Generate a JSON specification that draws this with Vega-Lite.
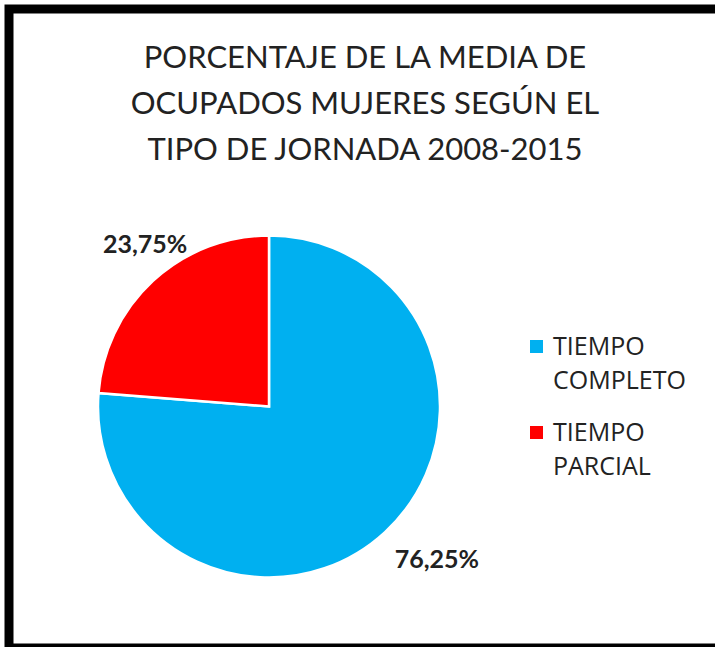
{
  "$schema": "https://vega.github.io/schema/vega-lite/v6.json",
  "width": 712,
  "height": 639,
  "padding": {"left": 9, "top": 9, "right": 0, "bottom": 0},
  "autosize": {"type": "none"},
  "background": "white",
  "view": {"stroke": "black", "strokeWidth": 9, "fill": "white"},
  "config": {
    "view": {"stroke": "black", "strokeWidth": 9, "fill": "white"},
    "font": "Lato",
    "style": {"guide-label": {"lineHeight": 34}}
  },
  "title": {
    "text": ["PORCENTAJE DE LA MEDIA DE", "OCUPADOS MUJERES SEGÚN EL", "TIPO DE JORNADA 2008-2015"],
    "anchor": "middle",
    "frame": "group",
    "baseline": "top",
    "offset": -158,
    "fontSize": 31,
    "fontWeight": "normal",
    "font": "Lato",
    "color": "#222222",
    "lineHeight": 46
  },
  "data": {
    "values": [
      {"tipo": "TIEMPO COMPLETO", "valor": 76.25, "etiqueta": "76,25%"},
      {"tipo": "TIEMPO PARCIAL", "valor": 23.75, "etiqueta": "23,75%"}
    ]
  },
  "encoding": {
    "theta": {"field": "valor", "type": "quantitative", "stack": true},
    "order": {"field": "tipo", "type": "nominal", "sort": "ascending"}
  },
  "layer": [
    {
      "mark": {"type": "arc", "outerRadius": 171, "stroke": "white", "strokeWidth": 2.5, "xOffset": -96, "yOffset": 78},
      "encoding": {
        "color": {
          "field": "tipo",
          "type": "nominal",
          "scale": {"domain": ["TIEMPO COMPLETO", "TIEMPO PARCIAL"], "range": ["#00B0F0", "#FF0000"]},
          "legend": {
            "orient": "none",
            "legendX": 515,
            "legendY": 325,
            "title": null,
            "symbolType": "square",
            "symbolSize": 169,
            "symbolStrokeWidth": 0,
            "labelFontSize": 25,
            "labelFont": "Open Sans",
            "labelColor": "#222222",
            "labelLimit": 300,
            "labelOffset": 4,
            "rowPadding": 26,
            "labelExpr": "split(datum.label, ' ')"
          }
        }
      }
    },
    {
      "mark": {"type": "text", "radius": 215, "dx": 22, "dy": -4, "fontSize": 25, "fontWeight": "bold", "font": "Lato", "color": "#222222", "xOffset": -96, "yOffset": 78},
      "encoding": {
        "detail": {"field": "tipo", "type": "nominal"},
        "text": {"field": "etiqueta", "type": "nominal"}
      }
    }
  ]
}
